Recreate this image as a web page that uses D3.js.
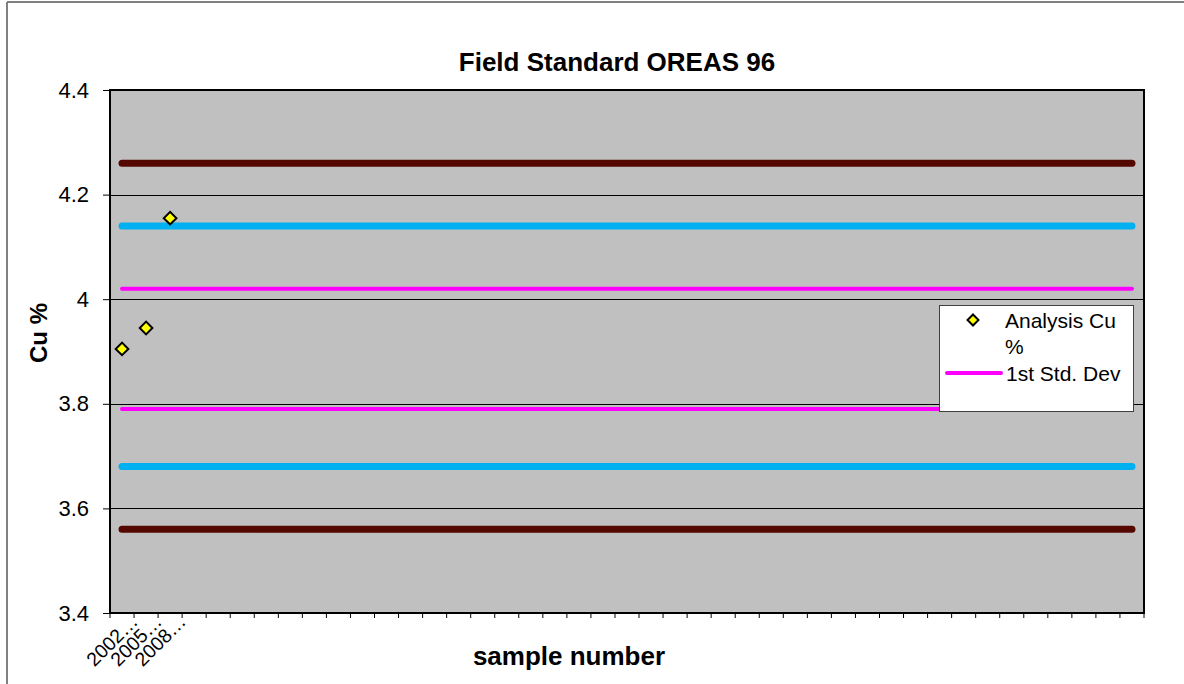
<!DOCTYPE html>
<html>
<head>
<meta charset="utf-8">
<script src="https://cdn.jsdelivr.net/npm/d3@7"></script>
<style>
  html, body { margin: 0; padding: 0; background: #ffffff; }
  svg { display: block; font-family: "Liberation Sans", Arial, sans-serif; }
</style>
</head>
<body>
<svg id="chart" width="1184" height="684"></svg>
<script>
// ---- data ----
const categoryCount = 43;
const categoryLabels = ["2002…", "2005…", "2008…"];
const cuValues = [3.905, 3.945, 4.155];
const limitNames = ["3rd Std. Dev", "2nd Std. Dev", "1st Std. Dev"];
const upperLimits = [4.26, 4.14, 4.02];
const lowerLimits = [3.56, 3.68, 3.79];
const limitColors = ["#550800", "#00b0f0", "#ff00ff"];
const limitWidths = [7, 7, 4];
const yTicks = [3.4, 3.6, 3.8, 4.0, 4.2, 4.4];
const yTickLabels = ["3.4", "3.6", "3.8", "4", "4.2", "4.4"];

const svg = d3.select("#chart");
const W = 1184, H = 684;
const m = { left: 110, right: 1144, top: 90, bottom: 613 };

// outer frame (left and top only visible)
svg.append("line").attr("x1", 7).attr("x2", 7).attr("y1", 2).attr("y2", H)
  .attr("stroke", "#808080").attr("stroke-width", 2);
svg.append("line").attr("x1", 7).attr("x2", W).attr("y1", 2).attr("y2", 2)
  .attr("stroke", "#808080").attr("stroke-width", 2);

const cats = d3.range(categoryCount);
const x = d3.scaleBand().domain(cats).range([m.left, m.right]).padding(0);
const y = d3.scaleLinear().domain([3.4, 4.4]).range([m.bottom, m.top]);

// plot background
svg.append("rect").attr("x", m.left).attr("y", m.top)
  .attr("width", m.right - m.left).attr("height", m.bottom - m.top)
  .attr("fill", "#c0c0c0");

// gridlines
svg.append("g").selectAll("line").data(yTicks.slice(1, -1)).join("line")
  .attr("x1", m.left).attr("x2", m.right)
  .attr("y1", d => Math.round(y(d)) + 0.5).attr("y2", d => Math.round(y(d)) + 0.5)
  .attr("stroke", "#000").attr("stroke-width", 1);

// y axis
const yAxis = d3.axisLeft(y).tickValues(yTicks)
  .tickFormat((d, i) => yTickLabels[i]).tickSize(7).tickPadding(14);
const gy = svg.append("g").attr("transform", `translate(${m.left},0)`).call(yAxis);
gy.select(".domain").remove();
gy.selectAll(".tick line").attr("stroke", "#000").attr("stroke-width", 1);
gy.selectAll(".tick text").attr("font-size", 22).attr("fill", "#000")
  .attr("font-family", "Liberation Sans, Arial, sans-serif");

// x axis ticks at category boundaries
const boundaries = d3.range(categoryCount + 1).map(i => m.left + i * x.bandwidth());
svg.append("g").selectAll("line").data(boundaries).join("line")
  .attr("x1", d => d).attr("x2", d => d)
  .attr("y1", m.bottom).attr("y2", m.bottom + 5)
  .attr("stroke", "#000").attr("stroke-width", 1);

// x tick labels
svg.append("g").selectAll("text").data(categoryLabels).join("text")
  .attr("transform", (d, i) => `translate(${x(i) + x.bandwidth() / 2 + 17},623) rotate(-45)`)
  .attr("text-anchor", "end")
  .attr("font-size", 19.5).attr("fill", "#000")
  .text(d => d);

// limit lines
const lineGen = d3.line().x(d => d[0]).y(d => d[1]);
const lineData = [];
limitNames.forEach((n, i) => {
  lineData.push({ v: upperLimits[i], c: limitColors[i], w: limitWidths[i] });
  lineData.push({ v: lowerLimits[i], c: limitColors[i], w: limitWidths[i] });
});
const xFirst = x(0) + x.bandwidth() / 2;
const xLast = x(categoryCount - 1) + x.bandwidth() / 2;
svg.append("g").selectAll("path").data(lineData).join("path")
  .attr("d", d => lineGen([[xFirst, y(d.v)], [xLast, y(d.v)]]))
  .attr("stroke", d => d.c).attr("stroke-width", d => d.w)
  .attr("stroke-linecap", "round").attr("fill", "none");

// plot border
svg.append("rect").attr("x", m.left).attr("y", m.top)
  .attr("width", m.right - m.left).attr("height", m.bottom - m.top)
  .attr("fill", "none").attr("stroke", "#000").attr("stroke-width", 2);

// points
const diamond = d3.symbol().type(d3.symbolSquare).size(80);
svg.append("g").selectAll("path").data(cuValues).join("path")
  .attr("d", diamond)
  .attr("transform", (d, i) => `translate(${x(i) + x.bandwidth() / 2},${y(d)}) rotate(45)`)
  .attr("fill", "#ffff00").attr("stroke", "#000").attr("stroke-width", 2);

// title
svg.append("text").attr("x", 617).attr("y", 71).attr("text-anchor", "middle")
  .attr("font-size", 26).attr("font-weight", "bold").text("Field Standard OREAS 96");

// axis titles
svg.append("text").attr("transform", "translate(47,333) rotate(-90)")
  .attr("text-anchor", "middle").attr("font-size", 24).attr("font-weight", "bold").text("Cu %");
svg.append("text").attr("x", 569).attr("y", 665).attr("text-anchor", "middle")
  .attr("font-size", 26).attr("font-weight", "bold").text("sample number");

// legend
const lg = svg.append("g");
lg.append("rect").attr("x", 939.5).attr("y", 305.5).attr("width", 194).attr("height", 106)
  .attr("fill", "#fff").attr("stroke", "#404040").attr("stroke-width", 1);
lg.append("path").attr("d", d3.symbol().type(d3.symbolSquare).size(60))
  .attr("transform", "translate(973,320) rotate(45)")
  .attr("fill", "#ffff00").attr("stroke", "#000").attr("stroke-width", 2);
lg.append("text").attr("x", 1005).attr("y", 328).attr("font-size", 21).text("Analysis Cu");
lg.append("text").attr("x", 1005).attr("y", 354).attr("font-size", 21).text("%");
lg.append("path").attr("d", lineGen([[947, 373], [1001, 373]]))
  .attr("stroke", limitColors[2]).attr("stroke-width", 4).attr("stroke-linecap", "round");
lg.append("text").attr("x", 1006).attr("y", 381).attr("font-size", 21).text("1st Std. Dev");
</script>
</body>
</html>
